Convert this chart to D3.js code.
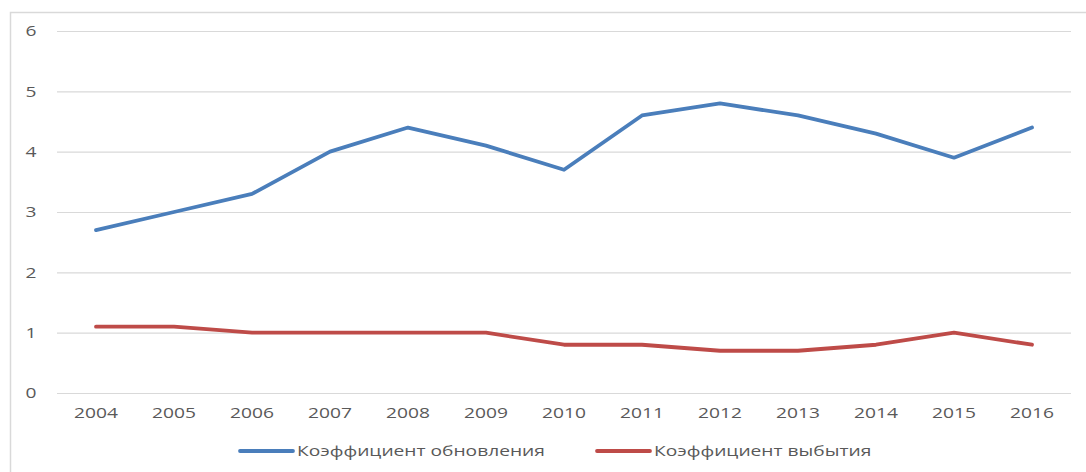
<!DOCTYPE html>
<html>
<head>
<meta charset="utf-8">
<script src="https://cdn.jsdelivr.net/npm/d3@7"></script>
<style>
  body { margin: 0; background: #fff; }
  text { font-family: "Open Sans", "Noto Sans", sans-serif; fill: #595959; }
</style>
</head>
<body>
<div id="chart"></div>
<script>
// data
var years = ["2004", "2005", "2006", "2007", "2008", "2009", "2010", "2011", "2012", "2013", "2014", "2015", "2016"];
var renewal = [2.7, 3.0, 3.3, 4.0, 4.4, 4.1, 3.7, 4.6, 4.8, 4.6, 4.3, 3.9, 4.4];
var retirement = [1.1, 1.1, 1.0, 1.0, 1.0, 1.0, 0.8, 0.8, 0.7, 0.7, 0.8, 1.0, 0.8];
var yTicks = [0, 1, 2, 3, 4, 5, 6];
var seriesNames = ["Коэффициент обновления", "Коэффициент выбытия"];
var seriesColors = ["#4a7ebb", "#be4b48"];

var svgWidth = 1086, svgHeight = 472;
var margin = { top: 31, left: 57, right: 15, bottom: 79 };
var width = svgWidth - margin.left - margin.right;
var height = svgHeight - margin.top - margin.bottom;

// the text in the picture is stretched sideways
var stretch = 1.28;
var fontSize = "15px";

var svg = d3.select("#chart").append("svg")
  .attr("width", svgWidth)
  .attr("height", svgHeight);

// chart border
svg.append("path")
  .attr("d", `M10.5,${svgHeight} V12.5 H${svgWidth}`)
  .attr("fill", "none")
  .attr("stroke", "#d9d9d9")
  .attr("stroke-width", 1.5);

var chartGroup = svg.append("g")
  .attr("transform", `translate(${margin.left}, ${margin.top})`);

var xScale = d3.scaleBand().domain(years).range([0, width]);
var yScale = d3.scaleLinear().domain([0, 6]).range([height, 0]);

// gridlines + y labels
var yAxis = chartGroup.append("g")
  .call(d3.axisLeft(yScale).tickValues(yTicks).tickSize(-width).tickFormat(d3.format("d")));
yAxis.select(".domain").remove();
yAxis.selectAll("line").attr("stroke", "#d9d9d9").attr("stroke-width", 1.2);
yAxis.selectAll("text")
  .style("font-size", fontSize)
  .attr("text-anchor", "middle")
  .attr("x", 0)
  .attr("transform", `translate(-26,0) scale(${stretch},1)`);

// x labels
var xAxis = chartGroup.append("g")
  .attr("transform", `translate(0, ${height})`)
  .call(d3.axisBottom(xScale).tickSize(0).tickPadding(14));
xAxis.select(".domain").remove();
xAxis.selectAll("text")
  .style("font-size", fontSize)
  .attr("transform", `scale(${stretch},1)`);

// lines
var line = d3.line()
  .x((d, i) => xScale(years[i]) + xScale.bandwidth() / 2)
  .y(d => yScale(d));

[renewal, retirement].forEach(function (values, i) {
  chartGroup.append("path")
    .datum(values)
    .attr("fill", "none")
    .attr("stroke", seriesColors[i])
    .attr("stroke-width", 3.8)
    .attr("stroke-linejoin", "round")
    .attr("stroke-linecap", "round")
    .attr("d", line);
});

// legend
var legendX = [240, 597];
var legend = svg.append("g").attr("transform", "translate(0, 451)");
seriesNames.forEach(function (name, i) {
  legend.append("line")
    .attr("x1", legendX[i]).attr("x2", legendX[i] + 53)
    .attr("y1", 0).attr("y2", 0)
    .attr("stroke", seriesColors[i])
    .attr("stroke-width", 3.8)
    .attr("stroke-linecap", "round");
  legend.append("text")
    .attr("transform", `translate(${legendX[i] + 57},0) scale(${stretch},1)`)
    .attr("dy", "0.35em")
    .style("font-size", fontSize)
    .text(name);
});
</script>
</body>
</html>
